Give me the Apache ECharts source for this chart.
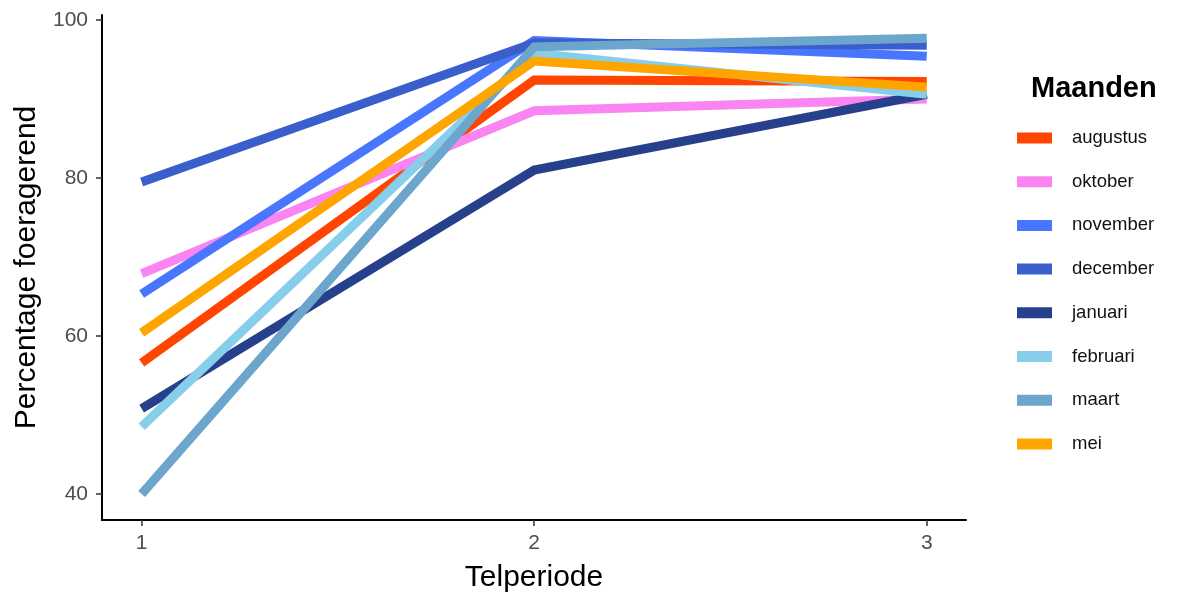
<!DOCTYPE html>
<html>
<head>
<meta charset="utf-8">
<script src="https://cdn.jsdelivr.net/npm/echarts@6/dist/echarts.min.js"></script>
<style>
html,body{margin:0;padding:0;background:#fff;}
#chart{width:1185px;height:593px;}
</style>
</head>
<body>
<div id="chart"></div>
<script>
var periods = [1, 2, 3];
var months = ['augustus','oktober','november','december','januari','februari','maart','mei'];
var augustus = [56.6, 92.4, 92.2];
var oktober  = [67.9, 88.5, 90.0];
var november = [65.3, 97.4, 95.4];
var december = [79.5, 97.1, 96.8];
var januari  = [50.8, 81.0, 90.6];
var februari = [48.5, 95.8, 90.6];
var maart    = [40.0, 96.6, 97.7];
var mei      = [60.4, 94.8, 91.5];
var yTicks = [40, 60, 80, 100];
var xTicks = [1, 2, 3];

var values = [augustus, oktober, november, december, januari, februari, maart, mei];
var colors = ['#FF4500','#FA84F2','#4876FF','#3A5FCD','#27408B','#87CEEB','#6CA6CD','#FFA500'];
var FONT = 'Liberation Sans, Arial, sans-serif';

var chart = echarts.init(document.getElementById('chart'), null, {renderer:'canvas'});
var series = months.map(function(m, i){
  return {
    name: m,
    type: 'line',
    data: periods.map(function(p, j){ return [p, values[i][j]]; }),
    showSymbol: false,
    symbol: 'none',
    lineStyle: {width: 9, color: colors[i], cap: 'butt', join: 'miter'},
    itemStyle: {color: colors[i]},
    emphasis: {disabled: true},
    animation: false,
    z: 2 + i
  };
});

chart.setOption({
  animation: false,
  backgroundColor: '#ffffff',
  grid: {left: 102, right: 219, top: 15, bottom: 73, containLabel: false, outerBoundsMode: 'none'},
  title: {
    text: 'Maanden',
    left: 1031, top: 74, padding: 0,
    textStyle: {fontFamily: FONT, fontSize: 29, fontWeight: 'bold', color: '#000'}
  },
  legend: {
    orient: 'vertical',
    left: 1017, top: 128,
    padding: 0,
    icon: 'rect',
    itemWidth: 35, itemHeight: 11,
    itemGap: 23.7,
    textStyle: {fontFamily: FONT, fontSize: 18.5, color: '#111', lineHeight: 20, padding:[0,0,0,15]},
    data: months,
    selectedMode: false
  },
  xAxis: {
    type: 'value',
    min: 0.899, max: 3.1,
    name: 'Telperiode',
    nameLocation: 'middle',
    nameGap: 43,
    nameTextStyle: {fontFamily: FONT, fontSize: 30, color: '#000'},
    axisLine: {show: true, onZero: false, lineStyle: {color: '#000', width: 2}},
    axisTick: {show: true, length: 6, lineStyle: {color: '#333', width: 1.5}, customValues: xTicks},
    axisLabel: {customValues: xTicks, margin: 13, fontFamily: FONT, fontSize: 21, color: '#4D4D4D'},
    splitLine: {show: false}
  },
  yAxis: {
    type: 'value',
    min: 36.7, max: 100.63,
    name: 'Percentage foeragerend',
    nameLocation: 'middle',
    nameGap: 58,
    nameRotate: 90,
    nameTextStyle: {fontFamily: FONT, fontSize: 30, color: '#000'},
    axisLine: {show: true, onZero: false, lineStyle: {color: '#000', width: 2}},
    axisTick: {show: true, length: 6, lineStyle: {color: '#333', width: 1.5}, customValues: yTicks},
    axisLabel: {customValues: yTicks, margin: 14, fontFamily: FONT, fontSize: 21, color: '#4D4D4D'},
    splitLine: {show: false}
  },
  series: series
});
</script>
</body>
</html>
